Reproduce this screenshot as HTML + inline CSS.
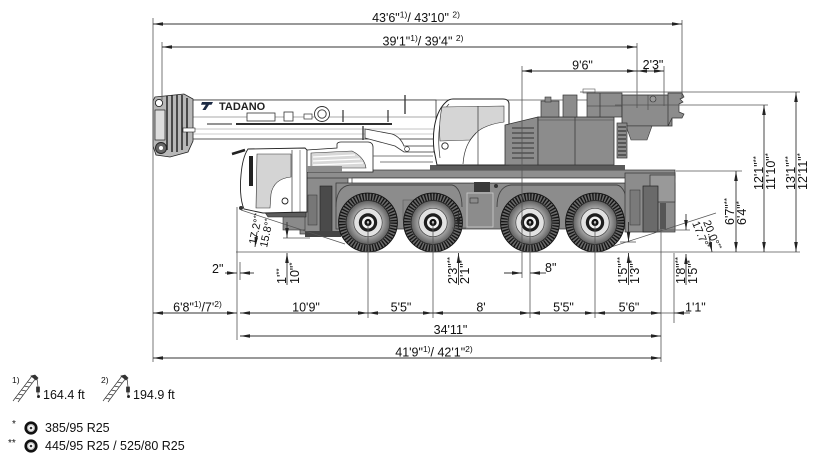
<!DOCTYPE html>
<html><head><meta charset="utf-8"><style>
html,body{margin:0;padding:0;background:#fff;width:831px;height:456px;overflow:hidden;}
svg{display:block;}
text{font-family:"Liberation Sans",Arial,sans-serif;fill:#111;font-size:12.5px;}
</style></head><body>
<svg width="831" height="456" viewBox="0 0 831 456" xmlns="http://www.w3.org/2000/svg">
<defs>
<marker id="a" markerUnits="userSpaceOnUse" markerWidth="11" markerHeight="5" refX="10" refY="2.5" orient="auto-start-reverse"><path d="M0,0.7 L10,2.5 L0,4.3 Z" fill="#222"/></marker>
<radialGradient id="sw" cx="0.5" cy="0.5" r="0.5"><stop offset="0.64" stop-color="#a9a9a9"/><stop offset="1" stop-color="#5e5e5e"/></radialGradient>
<g id="wh">
<circle r="29.4" fill="#6a6a6a" stroke="#111" stroke-width="0.9"/>
<circle r="25.8" fill="none" stroke="#151515" stroke-width="6.6" stroke-dasharray="1.35 1.545"/>
<circle r="22" fill="url(#sw)" stroke="#222" stroke-width="0.7"/>
<circle r="14.2" fill="#e2e2e2" stroke="#444" stroke-width="0.7"/>
<circle r="9.2" fill="#1e1e1e"/>
<circle r="6" fill="#f2f2f2"/>
<circle r="3.6" fill="#111"/>
<circle r="1.2" fill="#fff"/>
</g>
</defs>

<!-- ===== BOOM ===== -->
<line x1="163" y1="100" x2="600" y2="100" stroke="#555" stroke-width="0.8"/>
<rect x="190" y="100" width="246" height="39" fill="#fff" stroke="#333" stroke-width="0.8"/>
<line x1="193" y1="117" x2="440" y2="117" stroke="#555" stroke-width="0.6"/>
<line x1="207" y1="124" x2="232" y2="124" stroke="#555" stroke-width="1.2"/>
<line x1="236" y1="124" x2="392" y2="124" stroke="#111" stroke-width="1.7"/>
<line x1="193" y1="129" x2="436" y2="129" stroke="#888" stroke-width="0.5"/>
<line x1="193" y1="134" x2="436" y2="134" stroke="#999" stroke-width="0.5"/>
<rect x="247" y="113" width="28" height="8" fill="#fff" stroke="#333" stroke-width="0.8"/>
<rect x="284" y="112" width="9" height="9" fill="#fff" stroke="#333" stroke-width="0.8"/>
<rect x="304" y="114" width="8" height="5" fill="#fff" stroke="#333" stroke-width="0.7"/>
<circle cx="322" cy="114" r="7.5" fill="#fff" stroke="#333" stroke-width="0.9"/>
<circle cx="322" cy="114" r="4.2" fill="#fff" stroke="#333" stroke-width="0.9"/>
<line x1="343" y1="110" x2="343" y2="122" stroke="#333" stroke-width="1.2"/>
<line x1="388" y1="110" x2="388" y2="122" stroke="#333" stroke-width="1.2"/>
<line x1="405" y1="95" x2="405" y2="114" stroke="#333" stroke-width="1.3"/>
<!-- logo -->
<path d="M202,102 L213,102 L211.5,104.8 L209,104.8 L205.6,110 L202.4,110 L205.8,104.8 L201,104.8 Z" fill="#1c2a44"/>
<text x="219" y="110" style="font-size:11px;font-weight:bold;fill:#222;">TADANO</text>
<!-- boom head -->
<path d="M155,97 L184,94 L193,99 L193,141 L188,152 L170,157 L156,155 L153,146 L153,101 Z" fill="#b8b8b8" stroke="#222" stroke-width="0.8"/>
<g stroke="#1a1a1a" stroke-width="1.4">
<line x1="167" y1="96" x2="167" y2="150"/><line x1="172" y1="95" x2="172" y2="152"/>
<line x1="177" y1="95" x2="177" y2="152"/><line x1="182" y1="95" x2="182" y2="150"/>
<line x1="187" y1="98" x2="187" y2="146"/>
</g>
<rect x="155" y="110" width="10" height="30" fill="#ddd" stroke="#222" stroke-width="0.7"/>
<circle cx="159" cy="103" r="3.6" fill="#fff" stroke="#222" stroke-width="0.9"/>
<circle cx="161" cy="148" r="5.5" fill="#666" stroke="#222" stroke-width="0.9"/>
<circle cx="161" cy="148" r="2" fill="#fff"/>
<rect x="183" y="128" width="12" height="4" fill="#fff" stroke="#222" stroke-width="0.6"/>

<!-- ===== CARRIER ===== -->
<rect x="300" y="170" width="48" height="64" fill="#8c8c8c" stroke="#333" stroke-width="0.7"/>
<rect x="283" y="215" width="22" height="15" fill="#8a8a8a" stroke="#333" stroke-width="0.6"/>
<path d="M262,208 L306,208 L306,217 L268,217 Z" fill="#5c5c5c" stroke="#222" stroke-width="0.6"/>
<rect x="320" y="186" width="12" height="46" fill="#4a4a4a" stroke="#222" stroke-width="0.6"/>
<rect x="305" y="231" width="36" height="6" fill="#444"/>
<rect x="308" y="195" width="9" height="30" fill="#777" stroke="#333" stroke-width="0.5"/>
<rect x="300" y="170" width="375" height="8" fill="#8e8e8e" stroke="#333" stroke-width="0.7"/>
<rect x="336" y="183" width="339" height="46" fill="#8c8c8c" stroke="#333" stroke-width="0.7"/>
<rect x="352" y="178" width="276" height="5" fill="#fff" stroke="#333" stroke-width="0.7"/>
<path d="M336,207 C336,195 340,186 350,185 L452,185 C458,186 462,195 462,207" fill="none" stroke="#444" stroke-width="0.9"/>
<path d="M497,207 C497,195 501,186 511,185 L617,185 C623,186 627,195 627,207" fill="none" stroke="#444" stroke-width="0.9"/>
<rect x="467" y="193" width="26" height="34" fill="#8c8c8c" stroke="#ccc" stroke-width="0.8"/>
<rect x="474" y="182" width="16" height="10" fill="#3a3a3a"/>
<circle cx="496" cy="186" r="2" fill="#333"/>
<rect x="470" y="198" width="8" height="5" fill="none" stroke="#333" stroke-width="0.6"/>
<rect x="403" y="200" width="28" height="20" fill="#888" stroke="#555" stroke-width="0.5"/>
<rect x="625" y="173" width="50" height="59" fill="#8c8c8c" stroke="#333" stroke-width="0.7"/>
<rect x="650" y="175" width="25" height="27" fill="#999" stroke="#333" stroke-width="0.7"/>
<rect x="643" y="186" width="15" height="46" fill="#6a6a6a" stroke="#222" stroke-width="0.7"/>
<rect x="630" y="190" width="10" height="35" fill="#7a7a7a" stroke="#333" stroke-width="0.5"/>
<rect x="660" y="203" width="6" height="26" fill="#555"/>
<!-- cab -->
<path d="M248,149 L305,148 L307,150 L307,212 L263,213 L244,209 C240,200 240,185 241,175 C242,163 244,155 248,149 Z" fill="#fff" stroke="#222" stroke-width="0.9"/>
<path d="M257,154 L291,154 L291,177 C281,178 273,183 271,194 L270,208 L256,208 Z" fill="#d4d4d4" stroke="#333" stroke-width="0.6"/>
<line x1="292" y1="150" x2="292" y2="212" stroke="#333" stroke-width="0.7"/>
<line x1="300" y1="150" x2="300" y2="212" stroke="#555" stroke-width="0.6"/>
<circle cx="285" cy="201" r="3" fill="#fff" stroke="#222" stroke-width="0.9"/>
<rect x="249" y="156" width="4" height="30" fill="#222"/>
<line x1="232" y1="154" x2="245" y2="150" stroke="#222" stroke-width="2.5"/>
<circle cx="241" cy="208" r="2" fill="#333"/>
<!-- engine cover -->
<path d="M307,150 L337,148 L337,144 C337,143 339,142 341,142 L368,142 C371,142 373,144 373,147 L373,172 L307,172 Z" fill="#fff" stroke="#222" stroke-width="0.8"/>
<path d="M311,153 L352,151 C360,155 365,161 366,168 L311,168 Z" fill="#d8d8d8" stroke="#333" stroke-width="0.6"/>
<g stroke="#fff" stroke-width="1.3"><line x1="313" y1="157" x2="355" y2="155"/><line x1="313" y1="161" x2="360" y2="159"/><line x1="313" y1="165" x2="363" y2="163"/></g>
<rect x="307" y="166" width="35" height="6" fill="#8c8c8c"/>
<!-- boom base / luffing cylinder -->
<line x1="363" y1="126" x2="363" y2="140" stroke="#333" stroke-width="1.3"/>
<path d="M365,129 L392,134 C398,136 402,141 404,146 L434,146 L434,152 L404,152 L395,146 L365,138 Z" fill="#fff" stroke="#333" stroke-width="0.8"/>
<circle cx="407" cy="149" r="2.4" fill="#fff" stroke="#333" stroke-width="0.7"/>
<path d="M373,156 L433,156 M380,162 L433,162" stroke="#555" stroke-width="0.7"/>

<!-- ===== SUPERSTRUCTURE ===== -->
<rect x="430" y="165" width="195" height="5" fill="#5a5a5a"/>
<path d="M437,165 L434,150 C432,132 435,112 446,102 C448,100 450,99 453,99 L503,99 C507,99 509,101 509,104 L509,165 Z" fill="#fff" stroke="#222" stroke-width="1"/>
<path d="M440,158 C437,135 439,114 449,104" fill="none" stroke="#333" stroke-width="0.7"/>
<path d="M442,107 L504,106 L504,122 C490,124 481,128 476,133 L470,140 L440,141 C439,128 440,116 442,107 Z" fill="#d5d5d5" stroke="#333" stroke-width="0.6"/>
<line x1="478" y1="106" x2="478" y2="165" stroke="#333" stroke-width="0.7"/>
<path d="M476,133 C468,141 464,150 463,164" fill="none" stroke="#333" stroke-width="0.7"/>
<circle cx="445" cy="146" r="3.2" fill="#fff" stroke="#222" stroke-width="0.9"/>
<path d="M505,125 L538,117 L538,165 L505,165 Z" fill="#8c8c8c" stroke="#333" stroke-width="0.8"/>
<g stroke="#333" stroke-width="1.1">
<line x1="512" y1="128" x2="534" y2="128"/><line x1="512" y1="133" x2="534" y2="133"/><line x1="512" y1="138" x2="534" y2="138"/><line x1="512" y1="143" x2="534" y2="143"/><line x1="512" y1="148" x2="534" y2="148"/><line x1="512" y1="153" x2="534" y2="153"/><line x1="512" y1="158" x2="534" y2="158"/>
</g>
<rect x="538" y="117" width="76" height="48" fill="#8c8c8c" stroke="#333" stroke-width="0.8"/>
<line x1="575" y1="117" x2="575" y2="165" stroke="#333" stroke-width="0.7"/>
<line x1="538" y1="120" x2="614" y2="120" stroke="#444" stroke-width="0.6"/>
<rect x="541" y="101" width="18" height="16" fill="#8c8c8c" stroke="#333" stroke-width="0.7"/>
<rect x="545" y="97" width="6" height="5" fill="#8c8c8c" stroke="#333" stroke-width="0.6"/>
<rect x="563" y="95" width="14" height="22" fill="#8c8c8c" stroke="#333" stroke-width="0.7"/>
<rect x="583" y="89" width="12" height="4" fill="#fff" stroke="#555" stroke-width="0.6"/>
<rect x="587" y="93" width="35" height="24" fill="#8c8c8c" stroke="#333" stroke-width="0.7"/>
<line x1="600" y1="93" x2="600" y2="117" stroke="#333" stroke-width="0.7"/>
<line x1="587" y1="106" x2="622" y2="106" stroke="#333" stroke-width="0.6"/>
<rect x="622" y="95" width="50" height="31" fill="#8c8c8c" stroke="#333" stroke-width="0.8"/>
<circle cx="653" cy="99" r="3" fill="#9a9a9a" stroke="#333" stroke-width="0.6"/>
<line x1="648" y1="95" x2="648" y2="110" stroke="#444" stroke-width="0.6"/>
<path d="M668,93 L682,93 L684,97 L680,99 L683,102 L679,104 L679,112 L684,114 L682,118 L672,118 L668,126 Z" fill="#8c8c8c" stroke="#333" stroke-width="0.7"/>
<path d="M626,126 L652,126 L647,140 L631,140 Z" fill="#8c8c8c" stroke="#333" stroke-width="0.6"/>
<rect x="617" y="123" width="10" height="35" fill="#8c8c8c" stroke="#333" stroke-width="0.7"/>
<g stroke="#222" stroke-width="1"><line x1="618" y1="127" x2="626" y2="127"/><line x1="618" y1="131" x2="626" y2="131"/><line x1="618" y1="135" x2="626" y2="135"/><line x1="618" y1="139" x2="626" y2="139"/><line x1="618" y1="143" x2="626" y2="143"/><line x1="618" y1="147" x2="626" y2="147"/><line x1="618" y1="151" x2="626" y2="151"/><line x1="618" y1="155" x2="626" y2="155"/></g>

<!-- approach / departure lines -->
<line x1="241" y1="210" x2="345" y2="244" stroke="#555" stroke-width="0.7"/>
<line x1="608" y1="248" x2="716" y2="213" stroke="#555" stroke-width="0.7"/>

<!-- ===== WHEELS ===== -->
<use href="#wh" x="368" y="222.5"/>
<use href="#wh" x="433" y="222.5"/>
<use href="#wh" x="530" y="222.5"/>
<use href="#wh" x="595" y="222.5"/>

<!-- ===== EXTENSION LINES ===== -->
<g stroke="#555" stroke-width="0.8" fill="none">
<line x1="153" y1="18" x2="153" y2="362"/>
<line x1="162" y1="42" x2="162" y2="100"/>
<line x1="682" y1="20" x2="682" y2="99"/>
<line x1="637" y1="43" x2="637" y2="108"/>
<line x1="664" y1="66" x2="664" y2="106"/>
<line x1="522" y1="66" x2="522" y2="278"/>
<line x1="237" y1="207" x2="237" y2="340"/>
<line x1="240" y1="262" x2="240" y2="280"/>
<line x1="368" y1="222" x2="368" y2="318"/>
<line x1="433" y1="222" x2="433" y2="318"/>
<line x1="530" y1="222" x2="530" y2="318"/>
<line x1="595" y1="222" x2="595" y2="318"/>
<line x1="661" y1="228" x2="661" y2="362"/>
<line x1="674" y1="253" x2="674" y2="323"/>
<line x1="236" y1="252" x2="800" y2="252"/>
<line x1="580" y1="92" x2="800" y2="92"/>
<line x1="615" y1="105" x2="768" y2="105"/>
<line x1="676" y1="171" x2="742" y2="171"/>
<line x1="283" y1="238" x2="310" y2="238"/>
<line x1="452" y1="228" x2="466" y2="228"/>
<line x1="620" y1="242" x2="636" y2="242"/>
<line x1="658" y1="230" x2="690" y2="230"/>
<line x1="661" y1="313" x2="674" y2="313"/>
</g>

<!-- ===== DIMENSION ARROWS ===== -->
<g stroke="#333" stroke-width="0.9" marker-start="url(#a)" marker-end="url(#a)">
<line x1="153" y1="24" x2="682" y2="24"/>
<line x1="162" y1="47" x2="637" y2="47"/>
<line x1="522" y1="71" x2="637" y2="71"/>
<line x1="637" y1="71" x2="664" y2="71"/>
<line x1="153" y1="313" x2="237" y2="313"/>
<line x1="240" y1="313" x2="368" y2="313"/>
<line x1="368" y1="313" x2="433" y2="313"/>
<line x1="433" y1="313" x2="530" y2="313"/>
<line x1="530" y1="313" x2="595" y2="313"/>
<line x1="595" y1="313" x2="661" y2="313"/>
<line x1="240" y1="336" x2="661" y2="336"/>
<line x1="153" y1="358" x2="661" y2="358"/>
<line x1="796" y1="92" x2="796" y2="252"/>
<line x1="764" y1="105" x2="764" y2="252"/>
<line x1="736" y1="171" x2="736" y2="252"/>
</g>
<g stroke="#333" stroke-width="0.9" marker-end="url(#a)">
<line x1="225" y1="273" x2="237" y2="273"/>
<line x1="254" y1="273" x2="240" y2="273"/>
<line x1="504" y1="273" x2="522" y2="273"/>
<line x1="546" y1="273" x2="530" y2="273"/>
<line x1="690" y1="313" x2="674" y2="313"/>
<line x1="287" y1="285" x2="287" y2="253"/>
<line x1="458.5" y1="285" x2="458.5" y2="253"/>
<line x1="628.5" y1="285" x2="628.5" y2="253"/>
<line x1="686" y1="285" x2="686" y2="254"/>
<line x1="287" y1="222" x2="287" y2="238"/>
<line x1="458.5" y1="212" x2="458.5" y2="228"/>
<line x1="628.5" y1="222" x2="628.5" y2="242"/>
<line x1="686" y1="214" x2="686" y2="230"/>
<line x1="257" y1="232" x2="255" y2="247"/>
<line x1="709" y1="236" x2="712" y2="252"/>
</g>

<!-- ===== TEXT ===== -->
<text x="416" y="22" text-anchor="middle">43'6"<tspan style="font-size:8.5px" dy="-4.5">1)</tspan><tspan dy="4.5">/ 43'10" </tspan><tspan style="font-size:8.5px" dy="-4.5">2)</tspan></text>
<text x="423" y="45.5" text-anchor="middle">39'1"<tspan style="font-size:8.5px" dy="-4.5">1)</tspan><tspan dy="4.5">/ 39'4" </tspan><tspan style="font-size:8.5px" dy="-4.5">2)</tspan></text>
<text x="582.5" y="69.5" text-anchor="middle">9'6"</text>
<text x="653" y="69" text-anchor="middle">2'3"</text>
<text x="212" y="273">2"</text>
<text x="545" y="272">8"</text>
<text x="197.5" y="311.5" text-anchor="middle">6'8"<tspan style="font-size:8.5px" dy="-4.5">1)</tspan><tspan dy="4.5">/7'</tspan><tspan style="font-size:8.5px" dy="-4.5">2)</tspan></text>
<text x="306" y="311.5" text-anchor="middle">10'9"</text>
<text x="401" y="311.5" text-anchor="middle">5'5"</text>
<text x="481" y="311.5" text-anchor="middle">8'</text>
<text x="563.5" y="311.5" text-anchor="middle">5'5"</text>
<text x="629" y="311.5" text-anchor="middle">5'6"</text>
<text x="685" y="311.5">1'1"</text>
<text x="450.5" y="334" text-anchor="middle">34'11"</text>
<text x="434" y="356.5" text-anchor="middle">41'9"<tspan style="font-size:8.5px" dy="-4.5">1)</tspan><tspan dy="4.5">/ 42'1"</tspan><tspan style="font-size:8.5px" dy="-4.5">2)</tspan></text>

<!-- vertical labels -->
<text transform="translate(286,284) rotate(-90)">1'<tspan style="font-size:8px" dy="-4">**</tspan></text>
<text transform="translate(299,284) rotate(-90)">10"<tspan style="font-size:8px" dy="-4">*</tspan></text>
<text transform="translate(457,284) rotate(-90)">2'3"<tspan style="font-size:8px" dy="-4">**</tspan></text>
<text transform="translate(469,284) rotate(-90)">2'1"<tspan style="font-size:8px" dy="-4">*</tspan></text>
<text transform="translate(627,284) rotate(-90)">1'5"<tspan style="font-size:8px" dy="-4">**</tspan></text>
<text transform="translate(639,284) rotate(-90)">1'3"<tspan style="font-size:8px" dy="-4">*</tspan></text>
<text transform="translate(685,284) rotate(-90)">1'8"<tspan style="font-size:8px" dy="-4">**</tspan></text>
<text transform="translate(697,284) rotate(-90)">1'5"<tspan style="font-size:8px" dy="-4">*</tspan></text>
<text transform="translate(734,225) rotate(-90)">6'7"<tspan style="font-size:8px" dy="-4">**</tspan></text>
<text transform="translate(746,225) rotate(-90)">6'4"<tspan style="font-size:8px" dy="-4">*</tspan></text>
<text transform="translate(763,190) rotate(-90)">12'1"<tspan style="font-size:8px" dy="-4">**</tspan></text>
<text transform="translate(775,190) rotate(-90)">11'10"<tspan style="font-size:8px" dy="-4">*</tspan></text>
<text transform="translate(795,190) rotate(-90)">13'1"<tspan style="font-size:8px" dy="-4">**</tspan></text>
<text transform="translate(807,190) rotate(-90)">12'11"<tspan style="font-size:8px" dy="-4">*</tspan></text>
<!-- angle labels -->
<text transform="translate(256,245) rotate(-78)" style="font-size:11px">17.2°<tspan style="font-size:7px" dy="-3.5">**</tspan></text>
<text transform="translate(267,248) rotate(-78)" style="font-size:11px">15.8°<tspan style="font-size:7px" dy="-3.5">*</tspan></text>
<text transform="translate(703,222) rotate(68)" style="font-size:11px">20.0°<tspan style="font-size:7px" dy="-3.5">**</tspan></text>
<text transform="translate(692,223) rotate(68)" style="font-size:11px">17.7°<tspan style="font-size:7px" dy="-3.5">*</tspan></text>

<!-- ===== LEGEND ===== -->
<text x="12" y="383" style="font-size:8.5px">1)</text>
<g transform="translate(13,375)" stroke="#333" stroke-width="0.7" fill="none">
<line x1="0" y1="26" x2="19" y2="1"/><line x1="5" y1="27" x2="23" y2="3"/>
<path d="M2,23 L7,24 M5,19 L10,20 M8,15 L13,16 M11,11 L16,12 M14,7 L19,8"/>
<path d="M18,1 L22,0 L25,3 L23,5 Z" fill="#333"/>
<line x1="24" y1="3" x2="25" y2="12"/>
<path d="M23.5,12 L26.5,12 L26.5,17 L23.5,17 Z" fill="#333"/>
<line x1="25" y1="17" x2="25" y2="20"/>
<circle cx="25.5" cy="21.5" r="1.2" fill="#222"/>
</g>
<text x="43" y="399">164.4 ft</text>
<text x="101" y="383" style="font-size:8.5px">2)</text>
<g transform="translate(103,375)" stroke="#333" stroke-width="0.7" fill="none">
<line x1="0" y1="26" x2="19" y2="1"/><line x1="5" y1="27" x2="23" y2="3"/>
<path d="M2,23 L7,24 M5,19 L10,20 M8,15 L13,16 M11,11 L16,12 M14,7 L19,8"/>
<path d="M18,1 L22,0 L25,3 L23,5 Z" fill="#333"/>
<line x1="24" y1="3" x2="25" y2="12"/>
<path d="M23.5,12 L26.5,12 L26.5,17 L23.5,17 Z" fill="#333"/>
<line x1="25" y1="17" x2="25" y2="20"/>
<circle cx="25.5" cy="21.5" r="1.2" fill="#222"/>
</g>
<text x="133" y="399">194.9 ft</text>

<text x="12" y="427" style="font-size:10px">*</text>
<circle cx="31" cy="428" r="6.6" fill="#111"/>
<circle cx="31" cy="428" r="4" fill="#bbb"/>
<circle cx="31" cy="428" r="2.8" fill="#fff"/>
<circle cx="31" cy="428" r="1.3" fill="#333"/>
<text x="45" y="432">385/95 R25</text>

<text x="8" y="446" style="font-size:10px">**</text>
<circle cx="31" cy="446" r="6.6" fill="#111"/>
<circle cx="31" cy="446" r="4" fill="#bbb"/>
<circle cx="31" cy="446" r="2.8" fill="#fff"/>
<circle cx="31" cy="446" r="1.3" fill="#333"/>
<text x="45" y="450">445/95 R25 / 525/80 R25</text>
</svg>
</body></html>
